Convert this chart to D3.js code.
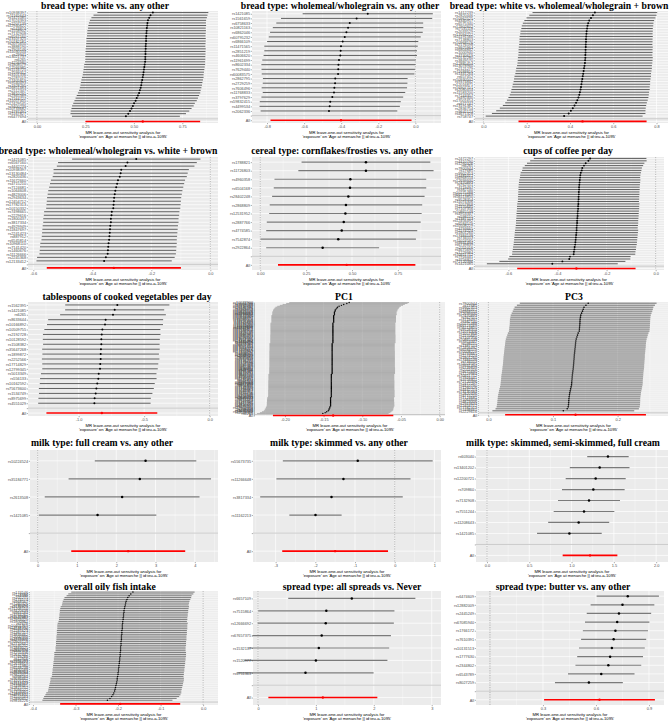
<!DOCTYPE html>
<html><head><meta charset="utf-8">
<script src="https://cdn.jsdelivr.net/npm/d3@7"></script>
<style>body{margin:0;background:#fff}svg{display:block}</style>
</head><body>
<svg id="c" width="669" height="725"></svg>
<script>
// ---------- DATA ----------
const p1Title = "bread type: white vs. any other";
const p1Snps = ["rs10938397","rs11165643","rs1421085","rs17024393","rs2207139","rs12940622","rs543874","rs1558902","rs7132908","rs6567160","rs13107325","rs10182181","rs2075650","rs3888190","rs7903146","rs11030104","rs29941","rs13021737","rs6265","rs4256980","rs1808579","rs12566985","rs1516725","rs7599312","rs3101336","rs2287019","rs17405819","rs9540493","rs1928295","rs16851483","rs2112347","rs3810291","rs2365389","rs7164727","rs11057405","rs12429545","rs9400239","rs10733682","rs4787491","rs1167827","rs6477694"];
const p1B = [0.598,0.586,0.579,0.573,0.570,0.569,0.567,0.566,0.565,0.564,0.563,0.563,0.562,0.561,0.561,0.560,0.560,0.559,0.559,0.558,0.556,0.554,0.552,0.550,0.548,0.546,0.543,0.540,0.538,0.535,0.531,0.527,0.521,0.515,0.509,0.501,0.495,0.488,0.480,0.471,0.459];
const p1Se = [0.146,0.150,0.152,0.153,0.154,0.155,0.155,0.156,0.156,0.156,0.157,0.157,0.157,0.157,0.158,0.158,0.158,0.158,0.158,0.158,0.159,0.159,0.159,0.159,0.159,0.160,0.160,0.160,0.160,0.160,0.160,0.161,0.161,0.161,0.161,0.160,0.160,0.158,0.156,0.152,0.142];
const p1All = [0.546, 0.151];
const p1Ticks = [0, 0.25, 0.5, 0.75];
const p1TickLabels = ["0.00","0.25","0.50","0.75"];

const p2Title = "bread type: wholemeal/wholegrain vs. any other";
const p2Snps = ["rs1421085","rs1561659","rs6758633","rs10821163","rs6862046","rs60795232","rs6866109","rs11471565","rs2851219","rs4606620","rs11961699","rs8602334","rs7629440","rs60083575","rs2862795","rs2729259","rs7606496","rs11768833","rs3797629","rs59832415","rs4499534","rs2062336"];
const p2B = [-0.257,-0.317,-0.354,-0.363,-0.372,-0.381,-0.392,-0.401,-0.403,-0.405,-0.412,-0.415,-0.416,-0.417,-0.432,-0.433,-0.437,-0.439,-0.448,-0.459,-0.462,-0.466];
const p2Se = [0.179,0.208,0.202,0.207,0.210,0.209,0.208,0.211,0.210,0.211,0.211,0.212,0.211,0.210,0.199,0.199,0.200,0.196,0.195,0.194,0.193,0.188];
const p2All = [-0.401, 0.194];
const p2Ticks = [-0.8,-0.6,-0.4,-0.2,0];
const p2TickLabels = ["-0.8","-0.6","-0.4","-0.2","0.0"];

const p3Title = "bread type: white vs. wholemeal/wholegrain + brown";
const p3Snps = ["rs1412239","rs2820446","rs10962525","rs4340957","rs6575340","rs12902602","rs7531118","rs2033529","rs17094222","rs11191560","rs7138803","rs10968576","rs2176598","rs9925964","rs6804842","rs1000940","rs4740619","rs10132280","rs3849570","rs12885454","rs13078960","rs2121279","rs11688816","rs1441264","rs657452","rs10930502","rs9374842","rs12016871","rs16907751","rs2080454","rs11583200","rs7243357","rs492400","rs17001654","rs977747","rs13191362","rs2836754","rs9641123","rs4671328","rs758747"];
const p3B = [0.515,0.506,0.497,0.489,0.484,0.481,0.479,0.477,0.476,0.475,0.474,0.474,0.473,0.473,0.472,0.472,0.471,0.471,0.470,0.469,0.467,0.465,0.463,0.461,0.459,0.457,0.455,0.453,0.451,0.449,0.446,0.443,0.439,0.434,0.428,0.421,0.413,0.404,0.394,0.373];
const p3Se = [0.147,0.150,0.152,0.153,0.154,0.155,0.155,0.156,0.156,0.157,0.157,0.157,0.157,0.158,0.158,0.158,0.158,0.159,0.159,0.159,0.159,0.160,0.160,0.160,0.161,0.161,0.161,0.162,0.162,0.163,0.163,0.164,0.165,0.166,0.167,0.169,0.172,0.176,0.181,0.185];
const p3All = [0.458, 0.151];
const p3Ticks = [0,0.2,0.4,0.6,0.8];
const p3TickLabels = ["0.0","0.2","0.4","0.6","0.8"];

const p4Title = "bread type: wholemeal/wholegrain vs. white + brown";
const p4Snps = ["rs1421085","rs6567160","rs4442274","rs10938397","rs13130484","rs2820436","rs11672660","rs4715210","rs7124681","rs1064608","rs4823006","rs2943634","rs12454712","rs17782313","rs10150332","rs7498665","rs2229616","rs1800437","rs3817334","rs4929949","rs11847697","rs2241423","rs887912","rs6545814","rs10968110","rs7141420","rs1460676","rs11126666","rs2245368","rs12133412"];
const p4B = [-0.251,-0.281,-0.287,-0.302,-0.304,-0.307,-0.313,-0.316,-0.319,-0.322,-0.324,-0.326,-0.327,-0.328,-0.329,-0.334,-0.335,-0.337,-0.337,-0.339,-0.340,-0.341,-0.342,-0.343,-0.345,-0.346,-0.347,-0.348,-0.354,-0.360];
const p4Se = [0.111,0.120,0.119,0.117,0.116,0.116,0.116,0.116,0.116,0.116,0.116,0.116,0.116,0.116,0.116,0.117,0.117,0.117,0.117,0.117,0.117,0.117,0.117,0.117,0.118,0.118,0.118,0.118,0.119,0.117];
const p4All = [-0.327, 0.116];
const p4Ticks = [-0.6,-0.4,-0.2,0];
const p4TickLabels = ["-0.6","-0.4","-0.2","0.0"];

const p5Title = "cereal type: cornflakes/frosties vs. any other";
const p5Snps = ["rs1788821","rs11726803","rs4960358","rs6504168","rs28402248","rs2868809","rs12531952","rs2887766","rs4774585","rs7542874","rs2922864"];
const p5B = [0.576,0.576,0.491,0.489,0.480,0.467,0.464,0.455,0.444,0.425,0.340];
const p5Se = [0.179,0.188,0.211,0.212,0.212,0.212,0.212,0.214,0.210,0.216,0.157];
const p5All = [0.471, 0.191];
const p5Ticks = [0,0.25,0.5,0.75];
const p5TickLabels = ["0.00","0.25","0.50","0.75"];

const p6Title = "cups of coffee per day";
const p6Snps = ["rs2472297","rs4410790","rs1260326","rs6265","rs7800944","rs17685","rs9902453","rs1481012","rs6968554","rs12699930","rs2470893","rs762551","rs4719497","rs382140","rs10275488","rs66723169","rs56113850","rs9528354","rs11074306","rs1057868","rs2155645","rs7107356","rs10865548","rs4953347","rs598155","rs1387153","rs12456492","rs6584579","rs10508229","rs4793665","rs2274224","rs1801260","rs13384538","rs734553","rs11024595","rs9931494","rs6739839","rs2111016","rs4675690","rs1229984","rs10411712","rs7916441","rs3756811","rs72720396","rs1421085"];
const p6B = [-0.267,-0.274,-0.285,-0.292,-0.299,-0.301,-0.305,-0.307,-0.308,-0.309,-0.310,-0.311,-0.312,-0.312,-0.313,-0.313,-0.314,-0.314,-0.315,-0.315,-0.316,-0.316,-0.317,-0.318,-0.318,-0.319,-0.320,-0.320,-0.321,-0.322,-0.322,-0.323,-0.324,-0.325,-0.326,-0.327,-0.328,-0.330,-0.331,-0.333,-0.334,-0.349,-0.352,-0.380,-0.421];
const p6Se = [0.117,0.121,0.122,0.123,0.124,0.124,0.125,0.125,0.125,0.126,0.126,0.126,0.126,0.126,0.126,0.126,0.126,0.126,0.126,0.127,0.127,0.127,0.127,0.127,0.127,0.127,0.127,0.127,0.127,0.127,0.128,0.128,0.128,0.128,0.128,0.128,0.128,0.128,0.128,0.128,0.128,0.126,0.127,0.131,0.136];
const p6All = [-0.323, 0.123];
const p6Ticks = [-0.6,-0.4,-0.2,0];
const p6TickLabels = ["-0.6","-0.4","-0.2","0.0"];

const p7Title = "tablespoons of cooked vegetables per day";
const p7Snps = ["rs1562395","rs1421085","rs6265","rs8633644","rs10166892","rs10509755","rs2192728","rs10128592","rs1508382","rs35647268","rs1899872","rs2252566","rs17714829","rs12799345","rs5013349","rs556133","rs10162592","rs75673600","rs1534749","rs8975699","rs4551029"];
const p7B = [-0.705,-0.725,-0.738,-0.794,-0.799,-0.819,-0.824,-0.827,-0.827,-0.830,-0.832,-0.832,-0.835,-0.837,-0.847,-0.850,-0.858,-0.865,-0.870,-0.878,-0.880];
const p7Se = [0.203,0.193,0.206,0.224,0.226,0.226,0.229,0.228,0.227,0.229,0.227,0.229,0.226,0.225,0.225,0.227,0.224,0.224,0.221,0.219,0.219];
const p7All = [-0.823, 0.216];
const p7Ticks = [-1,-0.5,0];
const p7TickLabels = ["-1.0","-0.5","0.0"];

const p8Title = "PC1";
const p8Snps = ["rs10033900","rs10061788","rs1008078","rs10132280","rs10150332","rs10182181","rs1025278","rs10268553","rs10404726","rs10423928","rs10510025","rs1064213","rs10733682","rs10773049","rs10840100","rs10913469","rs10938397","rs10968576","rs11030104","rs11057405","rs11126666","rs11165643","rs11191560","rs11583200","rs11672660","rs11688816","rs11727676","rs11847697","rs12016871","rs12133412","rs12286929","rs12401738","rs12429545","rs12446632","rs12566985","rs12885454","rs12940622","rs13021737","rs13078960","rs13107325","rs13191362","rs1441264","rs1460676","rs1516725","rs1558902","rs16851483","rs16907751","rs17001654","rs17024393","rs17094222","rs17203016","rs17405819","rs17724992","rs1800437","rs1808579","rs1928295","rs2033529","rs2033732","rs205262","rs2075650","rs2080454","rs2112347","rs2121279","rs2176040","rs2176598","rs2207139","rs2245368","rs2287019","rs2365389","rs2650492","rs2820292","rs2836754","rs29941","rs3101336","rs3736485","rs3810291","rs3817334","rs3849570","rs3888190","rs4256980","rs4740619","rs4787491","rs492400","rs543874","rs6091540","rs6465468","rs6477694","rs6567160","rs657452","rs6804842","rs7138803","rs7141420","rs7164727","rs7239883","rs7243357","rs7599312","rs7715256","rs7899106","rs7903146","rs9374842","rs9400239","rs9540493","rs9641123","rs977747","rs9914578","rs9925964","rs1167827","rs1421085","rs1412239","rs2820446","rs4340957","rs6575340","rs12902602","rs7531118","rs758747","rs4671328","rs1000940","rs10930502","rs2043113","rs6265"];
const p8B = [-0.117,-0.120,-0.124,-0.127,-0.130,-0.132,-0.133,-0.134,-0.135,-0.135,
-0.136,-0.136,-0.136,-0.136,-0.137,-0.137,-0.137,-0.137,-0.137,-0.137,
-0.137,-0.137,-0.138,-0.138,-0.138,-0.138,-0.138,-0.138,-0.138,-0.138,
-0.138,-0.138,-0.138,-0.138,-0.138,-0.138,-0.138,-0.138,-0.138,-0.138,
-0.138,-0.138,-0.138,-0.138,-0.139,-0.139,-0.139,-0.139,-0.139,-0.139,
-0.139,-0.139,-0.139,-0.139,-0.139,-0.139,-0.139,-0.139,-0.139,-0.139,
-0.139,-0.139,-0.139,-0.139,-0.139,-0.139,-0.139,-0.139,-0.139,-0.139,
-0.139,-0.139,-0.139,-0.139,-0.139,-0.139,-0.139,-0.140,-0.140,-0.140,
-0.140,-0.140,-0.140,-0.140,-0.140,-0.140,-0.140,-0.140,-0.140,-0.140,
-0.140,-0.140,-0.140,-0.140,-0.140,-0.140,-0.140,-0.140,-0.140,-0.140,
-0.140,-0.140,-0.141,-0.141,-0.141,-0.141,-0.141,-0.141,-0.141,-0.141,
-0.141,-0.141,-0.142,-0.142,-0.143,-0.143,-0.144,-0.146,-0.148,-0.151];
const p8Se = [0.0395,0.0400,0.0403,0.0406,0.0408,0.0409,0.0410,0.0410,0.0410,0.0410,
0.0410,0.0410,0.0410,0.0411,0.0411,0.0411,0.0411,0.0411,0.0411,0.0411,
0.0411,0.0411,0.0411,0.0412,0.0412,0.0412,0.0412,0.0412,0.0412,0.0412,
0.0412,0.0412,0.0412,0.0412,0.0412,0.0413,0.0413,0.0413,0.0413,0.0413,
0.0413,0.0413,0.0413,0.0413,0.0413,0.0413,0.0413,0.0413,0.0413,0.0413,
0.0413,0.0413,0.0414,0.0414,0.0414,0.0414,0.0414,0.0414,0.0414,0.0414,
0.0414,0.0414,0.0414,0.0414,0.0414,0.0414,0.0414,0.0414,0.0414,0.0414,
0.0415,0.0415,0.0415,0.0415,0.0415,0.0415,0.0415,0.0415,0.0415,0.0415,
0.0415,0.0415,0.0415,0.0415,0.0416,0.0416,0.0416,0.0416,0.0416,0.0416,
0.0416,0.0416,0.0416,0.0416,0.0417,0.0417,0.0417,0.0417,0.0417,0.0417,
0.0417,0.0418,0.0418,0.0418,0.0419,0.0419,0.0419,0.0420,0.0420,0.0420,
0.0421,0.0421,0.0422,0.0422,0.0423,0.0424,0.0425,0.0427,0.0430,0.0434];
const p8All = [-0.1377, 0.0397];
const p8Ticks = [-0.2,-0.15,-0.1,-0.05,0];
const p8TickLabels = ["-0.20","-0.15","-0.10","-0.05","0.00"];

const p9Title = "PC3";
const p9Snps = ["rs7800944","rs17685","rs9902453","rs1481012","rs6968554","rs12699930","rs2470893","rs762551","rs4719497","rs382140","rs10275488","rs66723169","rs56113850","rs9528354","rs11074306","rs1057868","rs2155645","rs7107356","rs10865548","rs4953347","rs598155","rs1387153","rs12456492","rs6584579","rs10508229","rs4793665","rs2274224","rs1801260","rs13384538","rs734553","rs11024595","rs9931494","rs6739839","rs2111016","rs4675690","rs1229984","rs10411712","rs7916441","rs3756811","rs72720396","rs2472297","rs4410790","rs1260326","rs4442274","rs13130484","rs2820436","rs4715210","rs7124681","rs1064608","rs4823006","rs2943634","rs12454712","rs17782313","rs7498665","rs2229616"];
const p9B = [0.1545,0.151,0.148,0.1468,0.1457,0.1443,0.143,0.1425,0.142,0.1418,
0.1417,0.1415,0.1412,0.1409,0.1406,0.139,0.138,0.137,0.136,0.1354,
0.135,0.1347,0.1344,0.134,0.1337,0.1334,0.133,0.1328,0.1326,0.1323,
0.1321,0.1318,0.1315,0.1312,0.1308,0.1304,0.130,0.1297,0.1295,0.1292,
0.129,0.1287,0.128,0.1273,0.1266,0.126,0.1255,0.125,0.1247,0.1245,
0.1243,0.124,0.1235,0.122,0.116];
const p9Se = [0.0540,0.0545,0.0548,0.0550,0.0551,0.0552,0.0553,0.0553,0.0554,0.0554,
0.0554,0.0554,0.0555,0.0555,0.0555,0.0555,0.0555,0.0556,0.0556,0.0556,
0.0556,0.0556,0.0557,0.0557,0.0557,0.0557,0.0557,0.0558,0.0558,0.0558,
0.0558,0.0558,0.0559,0.0559,0.0559,0.0559,0.0560,0.0560,0.0560,0.0560,
0.0561,0.0561,0.0561,0.0562,0.0562,0.0562,0.0563,0.0563,0.0563,0.0564,
0.0564,0.0565,0.0565,0.0566,0.0560];
const p9All = [0.1349, 0.0556];
const p9Ticks = [0,0.1,0.2];
const p9TickLabels = ["0.0","0.1","0.2"];

const p10Title = "milk type: full cream vs. any other";
const p10Snps = ["rs10224524","rs35184771","rs2613508","rs1421085"];
const p10B = [2.746,2.600,2.150,1.525];
const p10Se = [0.659,0.925,1.005,0.763];
const p10All = [2.305, 0.740];
const p10Ticks = [0,1,2,3,4];
const p10TickLabels = ["0","1","2","3","4"];

const p11Title = "milk type: skimmed vs. any other";
const p11Snps = ["rs55673735","rs11266648","rs3817334","rs11162213"];
const p11B = [-0.931,-1.291,-1.593,-1.996];
const p11Se = [0.963,0.862,0.916,0.336];
const p11All = [-1.501, 0.680];
const p11Ticks = [-3,-2,-1,0,1];
const p11TickLabels = ["-3","-2","-1","0","1"];

const p12Title = "milk type: skimmed, semi-skimmed, full cream";
const p12Snps = ["rs603040","rs13401202","rs12200721","rs709860","rs7132908","rs7551244","rs11208643","rs1421085"];
const p12B = [1.430,1.332,1.285,1.257,1.206,1.147,1.084,0.974];
const p12Se = [0.125,0.180,0.181,0.189,0.187,0.183,0.184,0.195];
const p12All = [1.218, 0.165];
const p12Ticks = [0,0.5,1,1.5,2];
const p12TickLabels = ["0.0","0.5","1.0","1.5","2.0"];

const p13Title = "overall oily fish intake";
const p13Snps = ["rs174546","rs174564","rs1535","rs102275","rs174574","rs968567","rs1260326","rs780094","rs2131925","rs11206510","rs4420638","rs964184","rs3764261","rs1532085","rs16942887","rs2954029","rs1800961","rs7679","rs10401969","rs12748152","rs6511720","rs2287623","rs1367117","rs3846662","rs2000999","rs2479409","rs4299376","rs10903129","rs2710642","rs10195252","rs1883025","rs2652834","rs6882076","rs7255436","rs2642442","rs1169288","rs12916","rs9987289","rs2328223","rs12678919","rs1121980","rs6548238","rs1800588","rs4846914","rs2923084","rs3822072","rs998584","rs9686661","rs13107325","rs1514175","rs2112347","rs7498665","rs2815752","rs17094222","rs7359397","rs11847697","rs4771122","rs1555543","rs2890652","rs9816226"];
const p13B = [-0.165,-0.170,-0.174,-0.177,-0.179,-0.181,-0.182,-0.183,-0.184,-0.185,
-0.186,-0.186,-0.187,-0.187,-0.188,-0.188,-0.189,-0.189,-0.190,-0.190,
-0.190,-0.191,-0.191,-0.191,-0.192,-0.192,-0.192,-0.193,-0.193,-0.193,
-0.194,-0.194,-0.194,-0.195,-0.195,-0.195,-0.196,-0.196,-0.197,-0.197,
-0.198,-0.198,-0.199,-0.199,-0.200,-0.200,-0.201,-0.202,-0.202,-0.203,
-0.204,-0.205,-0.206,-0.207,-0.208,-0.210,-0.212,-0.215,-0.219,-0.225];
const p13Se = [0.074,0.075,0.075,0.076,0.076,0.076,0.076,0.076,0.077,0.077,
0.077,0.077,0.077,0.077,0.077,0.077,0.077,0.078,0.078,0.078,
0.078,0.078,0.078,0.078,0.078,0.078,0.078,0.078,0.078,0.078,
0.078,0.078,0.078,0.079,0.079,0.079,0.079,0.079,0.079,0.079,
0.079,0.079,0.079,0.079,0.079,0.079,0.079,0.080,0.080,0.080,
0.080,0.080,0.080,0.080,0.080,0.081,0.081,0.081,0.080,0.078];
const p13All = [-0.195, 0.072];
const p13Ticks = [-0.4,-0.3,-0.2,-0.1,0];
const p13TickLabels = ["-0.4","-0.3","-0.2","-0.1","0.0"];

const p14Title = "spread type: all spreads vs. Never";
const p14Snps = ["rs6657109","rs7515864","rs12666692","rs67657375","rs1532137","rs1520977","rs6751363"];
const p14B = [1.62,1.18,1.17,1.10,1.05,1.00,0.82];
const p14Se = [0.56,0.60,0.60,0.61,0.62,0.63,0.60];
const p14All = [1.12, 0.48];
const p14Ticks = [0,1,2,3];
const p14TickLabels = ["0","1","2","3"];

const p15Title = "spread type: butter vs. any other";
const p15Snps = ["rs6474609","rs12882009","rs2445249","rs67085940","rs1766172","rs7610391","rs10131513","rs1777630","rs2344802","rs6543789","rs8027259"];
const p15B = [0.78,0.75,0.73,0.72,0.71,0.70,0.69,0.68,0.67,0.63,0.56];
const p15Se = [0.090,0.092,0.093,0.093,0.094,0.094,0.095,0.095,0.095,0.096,0.098];
const p15All = [0.62, 0.16];
const p15Ticks = [0.3,0.6,0.9];
const p15TickLabels = ["0.3","0.6","0.9"];

// ---------- LAYOUT ----------
const rowTop = [0,145,290,435,580];
const rowBox = [ {top:11,bottom:123,ty:8.5}, {top:12,bottom:125,ty:9}, {top:12,bottom:126,ty:9.5}, {top:15,bottom:127,ty:10.5}, {top:11,bottom:125,ty:10} ];
const panels = [
 {c:0,r:0,title:p1Title,snps:p1Snps,b:p1B,se:p1Se,all:p1All,ticks:p1Ticks,tl:p1TickLabels,dom:[-0.046,0.934],left:28,right:218,tx:105},
 {c:1,r:0,title:p2Title,snps:p2Snps,b:p2B,se:p2Se,all:p2All,ticks:p2Ticks,tl:p2TickLabels,dom:[-0.881,0.138],left:29,right:218,tx:117},
 {c:2,r:0,title:p3Title,snps:p3Snps,b:p3B,se:p3Se,all:p3All,ticks:p3Ticks,tl:p3TickLabels,dom:[-0.039,0.853],left:29,right:222,tx:113},
 {c:0,r:1,title:p4Title,snps:p4Snps,b:p4B,se:p4Se,all:p4All,ticks:p4Ticks,tl:p4TickLabels,dom:[-0.618,0.026],left:28,right:218,tx:108},
 {c:1,r:1,title:p5Title,snps:p5Snps,b:p5B,se:p5Se,all:p5All,ticks:p5Ticks,tl:p5TickLabels,dom:[-0.045,0.985],left:29,right:218,tx:119},
 {c:2,r:1,title:p6Title,snps:p6Snps,b:p6B,se:p6Se,all:p6All,ticks:p6Ticks,tl:p6TickLabels,dom:[-0.736,0.034],left:29,right:218,tx:122},
 {c:0,r:2,title:p7Title,snps:p7Snps,b:p7B,se:p7Se,all:p7All,ticks:p7Ticks,tl:p7TickLabels,dom:[-1.387,0.064],left:28,right:218,tx:127},
 {c:1,r:2,title:p8Title,snps:p8Snps,b:p8B,se:p8Se,all:p8All,ticks:p8Ticks,tl:p8TickLabels,dom:[-0.2387,0.0069],left:32,right:222,tx:121},
 {c:2,r:2,title:p9Title,snps:p9Snps,b:p9B,se:p9Se,all:p9All,ticks:p9Ticks,tl:p9TickLabels,dom:[-0.0145,0.278],left:33,right:222,tx:128},
 {c:0,r:3,title:p10Title,snps:p10Snps,b:p10B,se:p10Se,all:p10All,ticks:p10Ticks,tl:p10TickLabels,dom:[-0.195,4.59],left:30,right:218,tx:102},
 {c:1,r:3,title:p11Title,snps:p11Snps,b:p11B,se:p11Se,all:p11All,ticks:p11Ticks,tl:p11TickLabels,dom:[-3.57,1.166],left:30,right:218,tx:116},
 {c:2,r:3,title:p12Title,snps:p12Snps,b:p12B,se:p12Se,all:p12All,ticks:p12Ticks,tl:p12TickLabels,dom:[-0.13,2.14],left:30,right:222,tx:117},
 {c:0,r:4,title:p13Title,snps:p13Snps,b:p13B,se:p13Se,all:p13All,ticks:p13Ticks,tl:p13TickLabels,dom:[-0.407,0.035],left:30,right:218,tx:110},
 {c:1,r:4,title:p14Title,snps:p14Snps,b:p14B,se:p14Se,all:p14All,ticks:p14Ticks,tl:p14TickLabels,dom:[-0.086,3.16],left:30,right:218,tx:129},
 {c:2,r:4,title:p15Title,snps:p15Snps,b:p15B,se:p15Se,all:p15All,ticks:p15Ticks,tl:p15TickLabels,dom:[-0.079,0.985],left:30,right:218,tx:117}
];

const svg = d3.select("#c");
const SANS = "'Liberation Sans', Arial, sans-serif";

function drawPanel(p){
  const box = rowBox[p.r];
  const top = box.top, bottom = box.bottom;
  const g = svg.append("g").attr("transform", `translate(${p.c*223},${rowTop[p.r]})`);
  const n = p.snps.length;
  const x = d3.scaleLinear().domain(p.dom).range([p.left, p.right]);
  const y = d3.scaleLinear().domain([0.4, n + 2.6]).range([bottom, top]);
  const step = (bottom - top) / (n + 2.2);

  g.append("text").attr("x", p.tx).attr("y", box.ty).attr("text-anchor","middle")
    .attr("font-family","'Liberation Serif','Times New Roman',serif").attr("font-weight","bold")
    .attr("font-size", 9.7).attr("fill","#000").text(p.title);

  g.append("rect").attr("x", p.left).attr("y", top).attr("width", p.right - p.left)
    .attr("height", bottom - top).attr("fill", "#EBEBEB");

  const dt = p.ticks[1] - p.ticks[0];
  const minor = [];
  for (let k = -1; k < p.ticks.length + 2; k++) {
    const v = p.ticks[0] + (k + 0.5) * dt;
    if (v > p.dom[0] && v < p.dom[1]) minor.push(v);
  }
  g.selectAll(null).data(minor).join("line")
    .attr("x1", d => x(d)).attr("x2", d => x(d)).attr("y1", top).attr("y2", bottom)
    .attr("stroke", "#fff").attr("stroke-width", 0.35);
  g.selectAll(null).data(p.ticks).join("line")
    .attr("x1", d => x(d)).attr("x2", d => x(d)).attr("y1", top).attr("y2", bottom)
    .attr("stroke", "#fff").attr("stroke-width", 0.7);
  const cats = d3.range(1, n + 3);
  g.selectAll(null).data(cats).join("line")
    .attr("x1", p.left).attr("x2", p.right).attr("y1", d => y(d)).attr("y2", d => y(d))
    .attr("stroke", "#fff").attr("stroke-width", Math.min(0.7, step * 0.28));

  g.append("line").attr("x1", x(0)).attr("x2", x(0)).attr("y1", top).attr("y2", bottom)
    .attr("stroke", "#8c8c8c").attr("stroke-width", 0.6).attr("stroke-dasharray", "1.2,1.2");

  const rows = p.snps.map((s, i) => ({ b: p.b[i], se: p.se[i], pos: n + 2 - i }));
  const lw = step > 8 ? 1.2 : Math.min(1.0, step * 0.45);
  const pr = step > 8 ? 1.25 : Math.max(0.7, Math.min(1.0, step * 0.4));
  g.selectAll(null).data(rows).join("line")
    .attr("x1", d => x(d.b - 1.96 * d.se)).attr("x2", d => x(d.b + 1.96 * d.se))
    .attr("y1", d => y(d.pos)).attr("y2", d => y(d.pos))
    .attr("stroke", step > 8 ? "#7a7a7a" : "#5f5f5f").attr("stroke-width", lw);
  g.selectAll(null).data(rows).join("circle")
    .attr("cx", d => x(d.b)).attr("cy", d => y(d.pos)).attr("r", pr).attr("fill", "#000");

  g.append("line").attr("x1", p.left).attr("x2", p.right).attr("y1", y(2)).attr("y2", y(2))
    .attr("stroke", "#bebebe").attr("stroke-width", 0.8);

  const a = { b: p.all[0], se: p.all[1] };
  g.append("line").attr("x1", x(a.b - 1.96 * a.se)).attr("x2", x(a.b + 1.96 * a.se))
    .attr("y1", y(1)).attr("y2", y(1)).attr("stroke", "#ff0000").attr("stroke-width", 1.6);
  g.append("circle").attr("cx", x(a.b)).attr("cy", y(1)).attr("r", 1.2).attr("fill", "#ff0000");

  const labels = ["All", ""].concat(p.snps.slice().reverse());
  const ya = g.append("g").attr("transform", `translate(${p.left},0)`)
    .call(d3.axisLeft(y).tickValues(cats).tickFormat(d => labels[d - 1]).tickSize(1.2).tickPadding(0.8));
  ya.select(".domain").remove();
  ya.selectAll("line").attr("stroke", "#333").attr("stroke-width", 0.4);
  ya.selectAll("text").attr("font-family", SANS).attr("font-size", 3.8).attr("fill", "#4d4d4d");

  const xa = g.append("g").attr("transform", `translate(0,${bottom})`)
    .call(d3.axisBottom(x).tickValues(p.ticks).tickFormat((d, i) => p.tl[i]).tickSize(1.2).tickPadding(0.8));
  xa.select(".domain").remove();
  xa.selectAll("line").attr("stroke", "#333").attr("stroke-width", 0.4);
  xa.selectAll("text").attr("font-family", SANS).attr("font-size", 3.9).attr("fill", "#4d4d4d");

  const cx = (p.left + p.right) / 2;
  g.append("text").attr("x", cx).attr("y", bottom + 11.2).attr("text-anchor", "middle")
    .attr("font-family", SANS).attr("font-size", 4.2).attr("fill", "#000")
    .text("MR leave-one-out sensitivity analysis for");
  g.append("text").attr("x", cx).attr("y", bottom + 14.8).attr("text-anchor", "middle")
    .attr("font-family", SANS).attr("font-size", 4.2).attr("fill", "#000")
    .text("'exposure' on 'Age at menarche || id:ieu-a-1095'");
}

panels.forEach(drawPanel);
</script>
</body></html>
